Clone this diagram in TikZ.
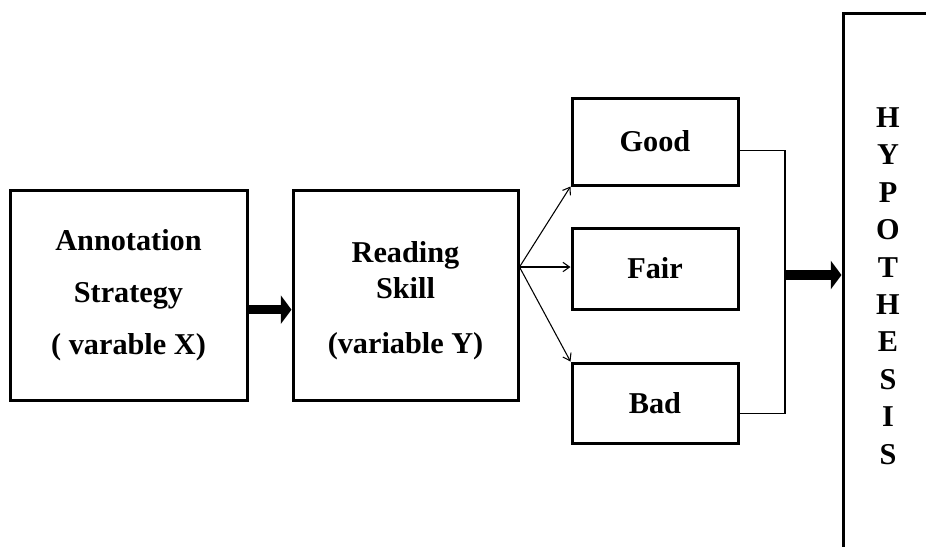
\documentclass[tikz,border=0pt]{standalone}
\usepackage{fontspec}
\setmainfont{Liberation Serif}
\usetikzlibrary{arrows.meta,calc}

\tikzset{box/.style={draw, line width=2.25pt, align=center, inner sep=0pt, font=\fontsize{22.7}{27}\selectfont\bfseries},
	bigarrow/.style={line width=7pt, -{Triangle[length=8pt,width=21pt]}},
	branch/.style={line width=0.8pt, -{Straight Barb[length=5pt,width=7pt]}}}

\begin{document}
\begin{tikzpicture}[x=0.75pt,y=-0.75pt]
		\useasboundingbox (0,0) rectangle (926,547);
		\node[box, minimum width=177.75pt, minimum height=157.5pt] (anno) at (128.5,295) {Annotation\\[12pt]Strategy\\[12pt]( varable X)};
		\node[box, minimum width=168.75pt, minimum height=157.5pt] (skill) at (405.5,295) {\rule{0pt}{24pt}Reading\\Skill\\[14pt](variable Y)};
		\node[box, minimum width=124.5pt, minimum height=65.25pt] (good) at (655,141.5) {Good};
		\node[box, minimum width=124.5pt, minimum height=60.75pt] (fair) at (655,268.5) {Fair};
		\node[box, minimum width=124.5pt, minimum height=60pt] (bad) at (655,403) {Bad};
		\node[box, minimum width=87.75pt, minimum height=440.25pt] (hyp) at (901.5,306.5) {};
		\node[box, draw=none, font=\fontsize{22.7}{28.1}\selectfont\bfseries] (hyptext) at (888,286) {H\\Y\\P\\O\\T\\H\\E\\S\\I\\S};
		
		\draw[bigarrow] ([yshift=-11pt]anno.east) -- ([yshift=-11pt]skill.west);
		
		\coordinate (fork) at ($(skill.east)+(0,-28)$);
		\draw[branch] (fork) -- (good.south west);
		\draw[branch] (fork) -- (fork -| fair.west);
		\draw[branch] (fork) -- (bad.north west);
		
		\coordinate (merge) at (785,275);
		\draw[line width=0.8pt] ([yshift=-6.5pt]good.east) -| (merge) |- ([yshift=-8pt]bad.east);
		\draw[bigarrow] (merge) -- (merge -| hyp.west);
	\end{tikzpicture}
\end{document}
